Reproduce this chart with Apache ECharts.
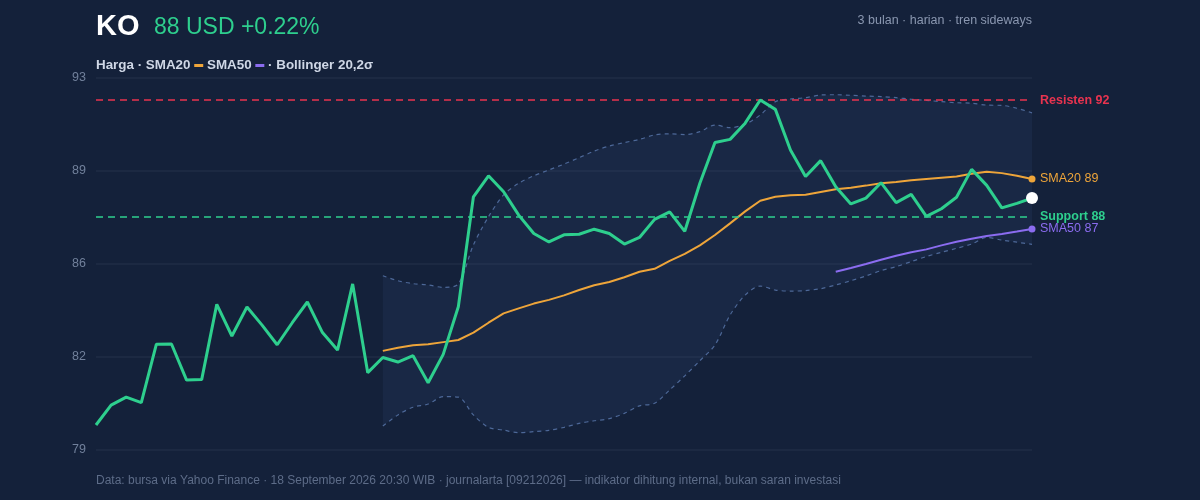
<!DOCTYPE html>
<html>
<head>
<meta charset="utf-8">
<script src="https://cdn.jsdelivr.net/npm/echarts@6/dist/echarts.min.js"></script>
<style>
html,body{margin:0;padding:0;background:#14213a;}
#c{width:1200px;height:500px;}
</style>
</head>
<body>
<div id="c"></div>
<script>
const days = Array.from({length: 63}, (_, i) => 'H' + (i + 1));
const price = [79.94,80.69,80.99,80.78,82.98,82.99,81.63,81.65,84.48,83.29,
  84.38,83.70,82.96,83.79,84.57,83.42,82.76,85.25,81.91,82.48,
  82.31,82.55,81.53,82.60,84.39,88.53,89.32,88.72,87.84,87.15,
  86.83,87.10,87.12,87.31,87.15,86.75,87.00,87.68,87.96,87.23,
  89.04,90.57,90.69,91.30,92.17,91.82,90.29,89.29,89.89,88.91,
  88.26,88.48,89.06,88.31,88.62,87.79,88.08,88.51,89.56,88.96,
  88.11,88.28,88.48];
const sma20Vals = [82.73,82.85,82.94,82.98,83.06,83.14,83.42,83.79,84.14,84.33,84.51,84.65,84.82,85.02,85.20,85.32,
  85.50,85.71,85.82,86.12,86.38,86.70,87.09,87.53,87.98,88.38,88.53,88.59,88.61,88.71,
  88.81,88.87,88.95,89.04,89.09,89.15,89.20,89.25,89.29,89.40,89.47,89.42,89.32,89.20];
const sma50Vals = [85.71,85.85,86.00,86.16,86.31,86.44,86.55,86.70,86.84,86.95,87.05,87.13,87.22,87.32];
const bbUpperVals = [85.56,85.37,85.26,85.21,85.12,85.25,
  86.72,87.78,88.60,89.04,89.32,89.54,89.76,90.00,90.25,90.44,90.57,90.69,90.86,90.90,90.87,90.98,91.23,
  91.13,91.26,91.61,92.11,92.21,92.26,92.36,92.37,92.35,92.32,92.30,92.26,92.20,92.16,92.11,92.07,92.05,91.98,91.97,91.86,91.69];
const bbLowerVals = [79.90,80.32,80.61,80.73,81.01,80.99,
  80.32,79.85,79.75,79.65,79.69,79.74,79.85,80.00,80.10,80.18,80.38,80.66,80.76,81.26,81.79,82.36,82.95,
  84.08,84.83,85.17,85.02,84.98,85.00,85.07,85.21,85.37,85.55,85.75,85.90,86.09,86.28,86.44,86.59,86.75,87.00,86.90,86.82,86.74];
const resistance = 92.17;
const support = 87.79;
const yMin = 79, yMax = 93, yStep = 3.5;

function pad(n, arr) { return new Array(n).fill(null).concat(arr); }
const sma20 = pad(19, sma20Vals);
const sma50 = pad(49, sma50Vals);
const bbUpper = pad(19, bbUpperVals);
const bbLower = pad(19, bbLowerVals);
const bbWidth = bbUpper.map((u, i) => (u == null || bbLower[i] == null) ? null : +(u - bbLower[i]).toFixed(2));
const last = price.length - 1;

const FONT = '"Liberation Sans", Arial, Helvetica, sans-serif';
const C = {
  price: '#2ecf8e', sma20: '#eea53a', sma50: '#8b6cf0', res: '#e8334f',
  band: '#4d6898', grid: '#1f2c46', axis: '#71809b', text: '#cfd7e6', sub: '#8a97b0', foot: '#5d6c88'
};

const chart = echarts.init(document.getElementById('c'));
chart.setOption({
  backgroundColor: '#14213a',
  animation: false,
  textStyle: { fontFamily: FONT },
  grid: { left: 96, right: 168, top: 78, bottom: 50 },
  xAxis: {
    type: 'category', data: days, boundaryGap: false,
    axisLine: { show: false }, axisTick: { show: false }, axisLabel: { show: false }, splitLine: { show: false }
  },
  yAxis: {
    type: 'value', min: yMin, max: yMax, interval: yStep,
    axisLine: { show: false }, axisTick: { show: false },
    axisLabel: { color: C.axis, fontSize: 12.5, margin: 10, fontFamily: FONT, formatter: v => String(Math.floor(v)) },
    splitLine: { lineStyle: { color: C.grid, width: 1.5 } }
  },
  graphic: [
    { type: 'text', left: 96, top: 12, style: { text: 'KO', fill: '#ffffff', font: 'bold 29px ' + FONT } },
    { type: 'text', left: 154, top: 16, style: { text: '88 USD +0.22%', fill: C.price, font: '23px ' + FONT } },
    { type: 'text', right: 168, top: 14, style: { text: '3 bulan · harian · tren sideways', fill: C.sub, font: '12.5px ' + FONT } },
    { type: 'text', left: 96, top: 59, style: {
      text: '{a|Harga · SMA20 }{o|\u00a0}{a| SMA50 }{p|\u00a0}{a| · Bollinger 20,2σ}',
      rich: {
        a: { fill: C.text, font: 'bold 13.4px ' + FONT },
        o: { backgroundColor: C.sma20, width: 9, height: 3, fontSize: 1, lineHeight: 3 },
        p: { backgroundColor: C.sma50, width: 9, height: 3, fontSize: 1, lineHeight: 3 }
      }
    } },
    { type: 'text', left: 96, top: 475, style: {
      text: 'Data: bursa via Yahoo Finance · 18 September 2026 20:30 WIB · journalarta [09212026] — indikator dihitung internal, bukan saran investasi',
      fill: C.foot, font: '12px ' + FONT } }
  ],
  series: [
    { name: 'bbBase', type: 'line', data: bbLower, stack: 'bb', smooth: 0.3, symbol: 'none',
      lineStyle: { width: 0, opacity: 0 }, silent: true, z: 1 },
    { name: 'bbFill', type: 'line', data: bbWidth, stack: 'bb', smooth: 0.3, symbol: 'none',
      lineStyle: { width: 0, opacity: 0 }, areaStyle: { color: 'rgba(64,96,150,0.18)' }, silent: true, z: 1 },
    { name: 'bbUpper', type: 'line', data: bbUpper, smooth: 0.3, symbol: 'none',
      lineStyle: { color: C.band, width: 1.2, type: [4, 4] }, z: 2 },
    { name: 'bbLower', type: 'line', data: bbLower, smooth: 0.3, symbol: 'none',
      lineStyle: { color: C.band, width: 1.2, type: [4, 4] }, z: 2 },
    { name: 'SMA20', type: 'line', data: sma20, symbol: 'none', z: 3, clip: false,
      lineStyle: { color: C.sma20, width: 2 },
      endLabel: { show: true, formatter: p => 'SMA20 ' + Math.round(p.value), color: C.sma20, fontSize: 12.5, distance: 8, fontFamily: FONT },
      markPoint: { symbol: 'circle', symbolSize: 7, itemStyle: { color: C.sma20 }, label: { show: false },
        data: [{ coord: [last, sma20[last]] }] } },
    { name: 'SMA50', type: 'line', data: sma50, symbol: 'none', z: 3, clip: false,
      lineStyle: { color: C.sma50, width: 2 },
      endLabel: { show: true, formatter: p => 'SMA50 ' + Math.round(p.value), color: C.sma50, fontSize: 12.5, distance: 8, fontFamily: FONT },
      markPoint: { symbol: 'circle', symbolSize: 7, itemStyle: { color: C.sma50 }, label: { show: false },
        data: [{ coord: [last, sma50[last]] }] } },
    { name: 'Harga', type: 'line', data: price, symbol: 'none', z: 5, clip: false,
      lineStyle: { color: C.price, width: 3 },
      markPoint: { symbol: 'circle', symbolSize: 12, z: 10, itemStyle: { color: '#ffffff' }, label: { show: false },
        data: [{ coord: [last, price[last]] }] },
      markLine: { symbol: 'none', silent: true,
        data: [
          { yAxis: resistance, lineStyle: { color: C.res, width: 1.5, type: [7, 5] },
            label: { show: true, position: 'end', distance: 8, formatter: 'Resisten ' + Math.round(resistance), color: C.res, fontWeight: 'bold', fontSize: 12.5, fontFamily: FONT } },
          { yAxis: support, lineStyle: { color: C.price, width: 1.5, type: [7, 5] },
            label: { show: true, position: 'end', distance: 8, formatter: 'Support ' + Math.round(support), color: C.price, fontWeight: 'bold', fontSize: 12.5, fontFamily: FONT } }
        ] } }
  ]
});
</script>
</body>
</html>
